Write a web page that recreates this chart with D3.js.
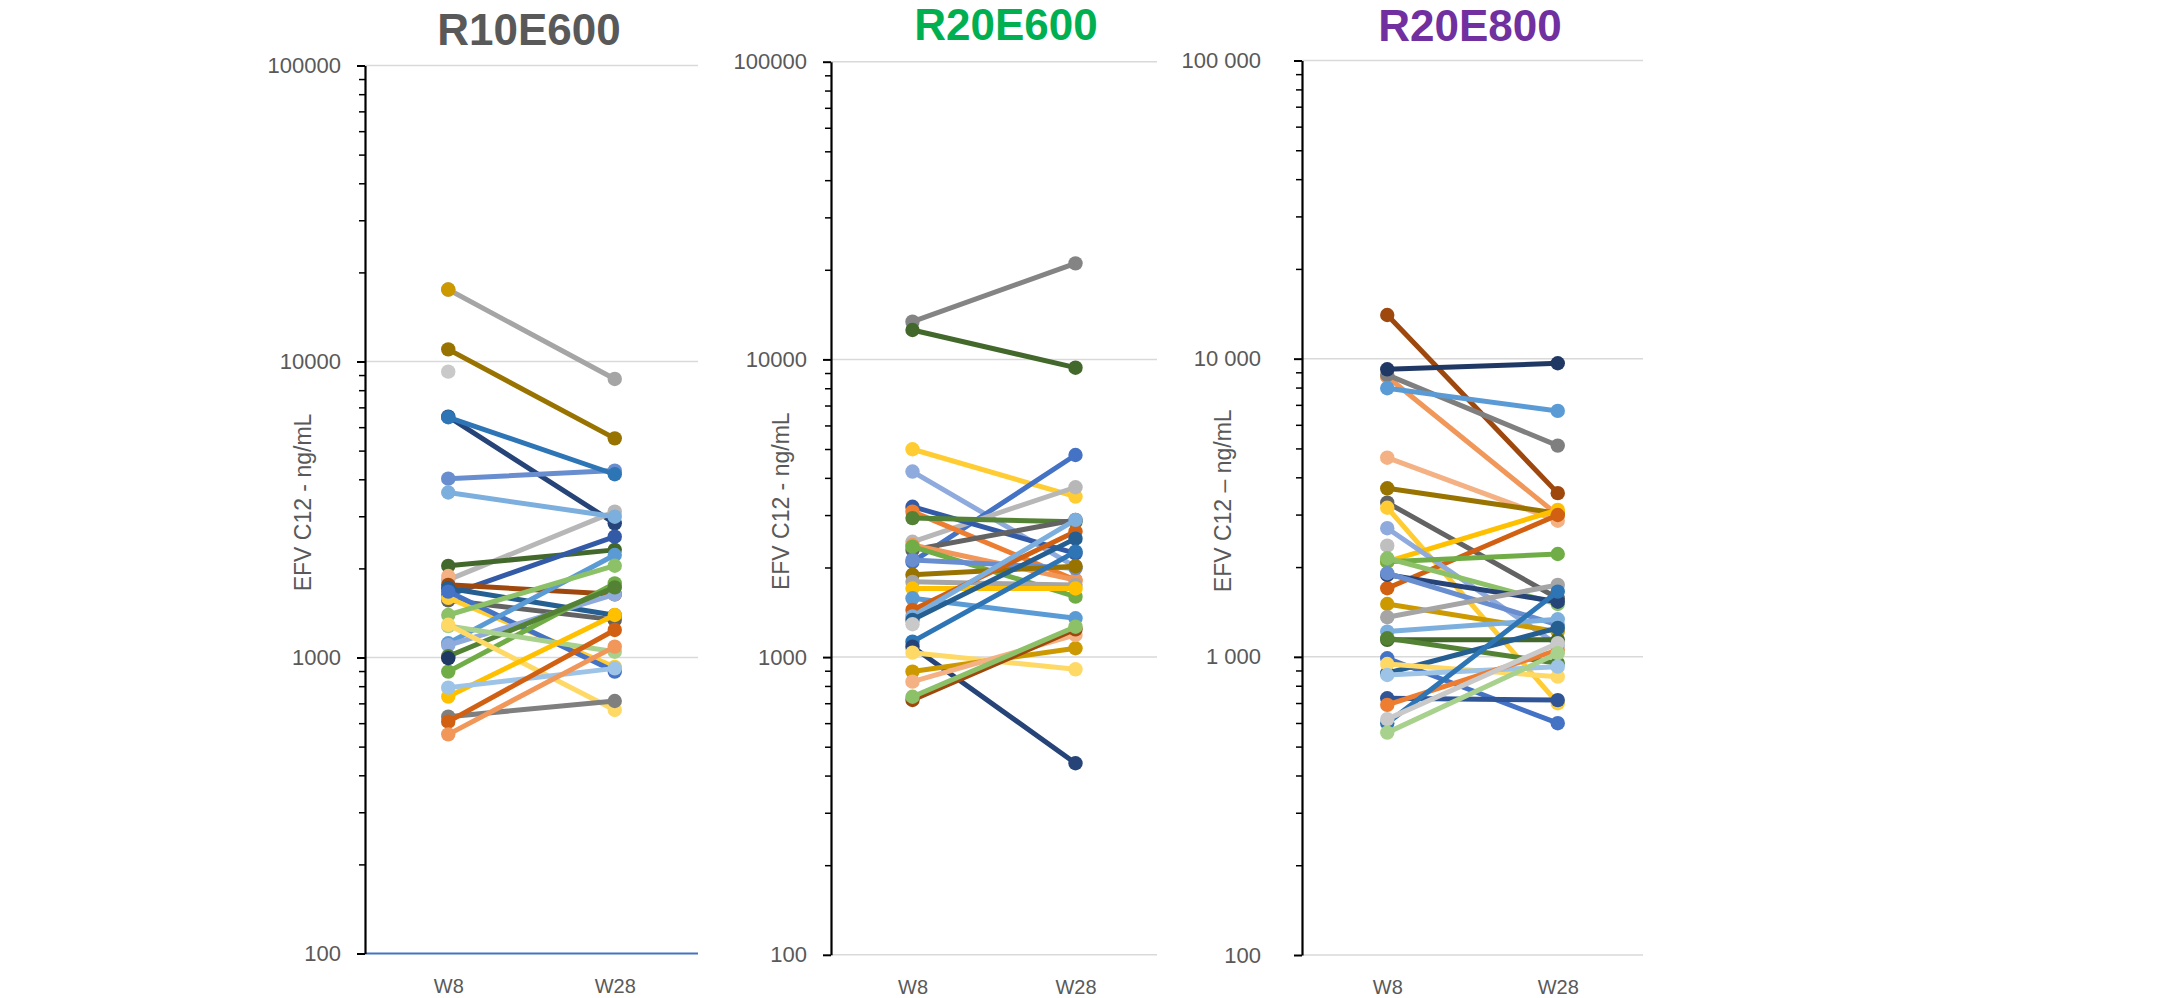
<!DOCTYPE html>
<html><head><meta charset="utf-8">
<script src="https://cdn.jsdelivr.net/npm/d3@7"></script>
<style>
html,body{margin:0;padding:0;background:#fff;}
svg{display:block;}
text{font-family:"Liberation Sans",Arial,sans-serif;}
</style>
</head><body>
<svg id="chart" width="2177" height="998"></svg>
<script>
// ---------- data ----------
const categories = ["W8", "W28"];
const yTickValues = [100, 1000, 10000, 100000];
const yTickLabelsPlain = ["100", "1000", "10000", "100000"];
const yTickLabelsSpaced = ["100", "1 000", "10 000", "100 000"];
const panelTitles = ["R10E600", "R20E600", "R20E800"];
const yAxisTitles = ["EFV C12 - ng/mL", "EFV C12 - ng/mL", "EFV C12 \u2013 ng/mL"];

// R10E600
const r10e600W8  = [17500, 17500, 10990, 9240, 6510, 4020, 6480, 1830, 3610, 2040, 1885, 1625, 1760, 1715, 1560, 1590, 1670, 1117, 1100, 896, 1010, 994, 1277, 1392, 1290, 738, 791, 631, 607, 550];
const r10e600W28 = [8730, null, 5500, null, 2840, 4280, 4160, 3110, 2990, 2310, null, 2560, 1635, 1390, 1340, 930, 896, 2220, 1635, 1780, 1725, null, 1046, 2042, 665, 1392, 919, 713, 1239, 1088];
const r10e600Colors = ["#A5A5A5", "#CC9A00", "#997300", "#C9C9C9", "#264478", "#698ED0", "#2E75B6", "#B7B7B7", "#7CAFDD", "#43682B", "#F4B183", "#335AA6", "#9E480E", "#255E91", "#636363", "#FFCD33", "#4472C4", "#5B9BD5", "#8FAADC", "#70AD47", "#548235", "#203864", "#A9D18E", "#8CC168", "#FFD966", "#FFC000", "#9DC3E6", "#7F7F7F", "#D26012", "#F1975A"];

// R20E600
const r20e600W8  = [13390, 12550, 4990, 4200, 2090, 2440, 3200, 3080, 2930, 2290, 2380, 2350, 2120, 1890, 1790, 1700, 1576, 1440, 1370, 1334, 1290, 1127, 1084, 1035, 894, 827, 718, 736];
const r20e600W28 = [21020, 9380, 3460, 2010, 4775, 3720, 2230, 1815, 2850, 2890, 1815, 1596, 1990, 2020, 1745, 1700, 1350, 2640, 2890, 2500, null, 2260, 440, 910, 1071, 1187, 1240, 1265];
const r20e600Colors = ["#848484", "#43682B", "#FFCD33", "#8FAADC", "#4472C4", "#B7B7B7", "#335AA6", "#ED7D31", "#548235", "#636363", "#F1975A", "#70AD47", "#698ED0", "#997300", "#A5A5A5", "#FFC000", "#5B9BD5", "#D26012", "#7CAFDD", "#255E91", "#C9C9C9", "#2E75B6", "#264478", "#FFD966", "#CC9A00", "#F4B183", "#9E480E", "#8CC168"];

// R20E800
const r20e800W8  = [14010, 8700, 8820, 9210, 7960, 4655, 3675, 3290, 3163, 2085, 1698, 2700, 2360, 2085, 2141, 1884, 1907, 1504, 1358, 1215, 1140, 1154, 989, 881, 946, 869, 726, 690, 599, 618, 557];
const r20e800W28 = [3540, 2990, 5110, 9650, 6680, 2860, 3030, 1572, 699, 3110, 2990, 1096, null, 2213, 1504, 1531, 1279, 1215, 1742, 1337, 1140, 952, 599, 1250, 858, 927, 716, 1054, 1655, 1111, 1028];
const r20e800Colors = ["#9E480E", "#F1975A", "#7F7F7F", "#203864", "#5B9BD5", "#F4B183", "#997300", "#636363", "#FFCD33", "#FFC000", "#D26012", "#8FAADC", "#BFBFBF", "#70AD47", "#8CC168", "#264478", "#698ED0", "#CC9A00", "#A5A5A5", "#7CAFDD", "#43682B", "#548235", "#4472C4", "#255E91", "#FFD966", "#9DC3E6", "#2F5597", "#ED7D31", "#2E75B6", "#C9C9C9", "#A9D18E"];

// ---------- layout ----------
const panels = [
  { title: panelTitles[0], titleColor: "#595959", titleX: 529, titleY: 45,
    yTitle: yAxisTitles[0], yTitleX: 311,
    left: 365, right: 698, top: 65.5, bottom: 953.5, tickPad: 16,
    labels: yTickLabelsPlain, w8: r10e600W8, w28: r10e600W28, colors: r10e600Colors, blueBase: true },
  { title: panelTitles[1], titleColor: "#00B050", titleX: 1006, titleY: 40,
    yTitle: yAxisTitles[1], yTitleX: 789,
    left: 831, right: 1157, top: 61.7, bottom: 954.8, tickPad: 16,
    labels: yTickLabelsPlain, w8: r20e600W8, w28: r20e600W28, colors: r20e600Colors, blueBase: false },
  { title: panelTitles[2], titleColor: "#7030A0", titleX: 1470, titleY: 41,
    yTitle: yAxisTitles[2], yTitleX: 1231,
    left: 1302, right: 1643, top: 60.5, bottom: 955, tickPad: 33,
    labels: yTickLabelsSpaced, w8: r20e800W8, w28: r20e800W28, colors: r20e800Colors, blueBase: false }
];

const svg = d3.select("#chart");
svg.append("rect").attr("width", 2177).attr("height", 998).attr("fill", "#fff");

const minorTicks = [];
[100, 1000, 10000].forEach(d => { for (let k = 2; k <= 9; k++) minorTicks.push(d * k); });

panels.forEach(p => {
  const x = d3.scalePoint().domain(categories).range([p.left, p.right]).padding(0.5);
  const y = d3.scaleLog().domain([100, 100000]).range([p.bottom, p.top]);
  const g = svg.append("g");

  // gridlines
  g.append("g").selectAll("line")
    .data(yTickValues.filter(v => !(p.blueBase && v === 100)))
    .join("line")
    .attr("x1", p.left).attr("x2", p.right)
    .attr("y1", d => y(d)).attr("y2", d => y(d))
    .attr("stroke", "#D9D9D9").attr("stroke-width", 1.5);

  if (p.blueBase) {
    g.append("line")
      .attr("x1", p.left).attr("x2", p.right)
      .attr("y1", y(100)).attr("y2", y(100))
      .attr("stroke", "#4472C4").attr("stroke-width", 2);
  }

  // minor ticks
  const minorAxis = d3.axisLeft(y).tickValues(minorTicks).tickSize(6).tickFormat("");
  g.append("g").attr("transform", `translate(${p.left},0)`).call(minorAxis)
    .call(a => a.select(".domain").remove())
    .call(a => a.selectAll(".tick line").attr("stroke", "#000").attr("stroke-width", 1.5));

  // major axis
  const majorAxis = d3.axisLeft(y).tickValues(yTickValues).tickSize(8).tickSizeOuter(0)
    .tickPadding(p.tickPad).tickFormat((d, i) => p.labels[i]);
  g.append("g").attr("transform", `translate(${p.left},0)`).call(majorAxis)
    .call(a => a.select(".domain").attr("stroke", "#000").attr("stroke-width", 2.2))
    .call(a => a.selectAll(".tick line").attr("stroke", "#000").attr("stroke-width", 2))
    .call(a => a.selectAll(".tick text").attr("fill", "#595959").attr("font-size", 22)
      .attr("font-family", "'Liberation Sans', Arial, sans-serif"));

  // x labels
  const xAxis = d3.axisBottom(x).tickSize(0).tickPadding(25);
  g.append("g").attr("transform", `translate(0,${p.bottom})`).call(xAxis)
    .call(a => a.select(".domain").remove())
    .call(a => a.selectAll(".tick text").attr("fill", "#595959").attr("font-size", 20)
      .attr("dy", "0.71em")
      .attr("font-family", "'Liberation Sans', Arial, sans-serif"));

  // y title
  g.append("text")
    .attr("transform", `translate(${p.yTitleX},${(p.top + p.bottom) / 2 - 7}) rotate(-90)`)
    .attr("text-anchor", "middle")
    .attr("fill", "#595959").attr("font-size", 23)
    .text(p.yTitle);

  // panel title
  g.append("text")
    .attr("x", p.titleX).attr("y", p.titleY)
    .attr("text-anchor", "middle")
    .attr("fill", p.titleColor).attr("font-size", 44).attr("font-weight", "bold")
    .text(p.title);

  // series
  const series = p.w8.map((v, i) => ({ vals: [v, p.w28[i]], color: p.colors[i] }));
  const line = d3.line()
    .defined(d => d.v != null)
    .x(d => x(d.c)).y(d => y(d.v));
  const sg = g.append("g");
  series.forEach(s => {
    const pts = categories.map((c, j) => ({ c, v: s.vals[j] }));
    const sGroup = sg.append("g");
    if (pts.every(d => d.v != null)) {
      sGroup.append("path").attr("d", line(pts))
        .attr("fill", "none").attr("stroke", s.color)
        .attr("stroke-width", 5).attr("stroke-linecap", "round");
    }
    sGroup.selectAll("circle").data(pts.filter(d => d.v != null)).join("circle")
      .attr("cx", d => x(d.c)).attr("cy", d => y(d.v)).attr("r", 7.2)
      .attr("fill", s.color);
  });
});
</script>
</body></html>
